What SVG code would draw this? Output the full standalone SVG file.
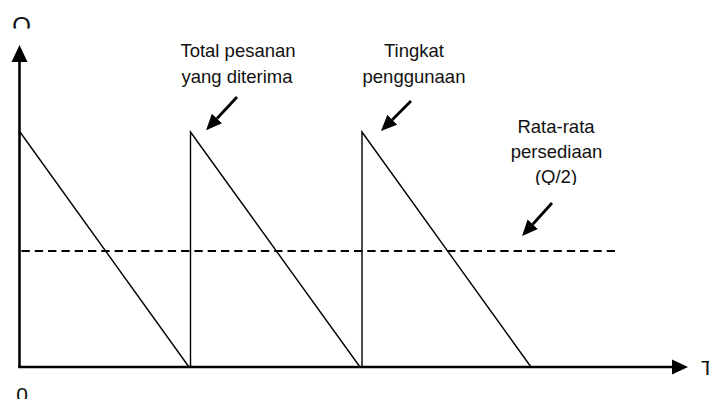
<svg xmlns="http://www.w3.org/2000/svg" width="709" height="399" viewBox="0 0 709 399">
<style>
.lbl{font-family:"Liberation Sans",Arial,sans-serif;font-size:18.5px;fill:#111;text-anchor:middle}
.ax{font-family:"Liberation Sans",Arial,sans-serif;font-size:21px;fill:#111}
.axis{stroke:#000;stroke-width:2.6;fill:none}
.saw{stroke:#000;stroke-width:1.4;fill:none}
.dash{stroke:#000;stroke-width:2;stroke-dasharray:8.3 5;fill:none}
.ptr{stroke:#000;stroke-width:2.8;fill:none;marker-end:url(#ah)}
</style>
<defs>
<marker id="ah" markerUnits="userSpaceOnUse" markerWidth="17" markerHeight="15" refX="0" refY="7" orient="auto">
<path d="M0,0 L16,7 L0,14 z" fill="#000"/>
</marker>
<clipPath id="clipQ"><rect x="0" y="0" width="60" height="28.5"/></clipPath>
<clipPath id="clipQ2"><rect x="480" y="160" width="160" height="25"/></clipPath>
</defs>
<rect width="709" height="399" fill="#fff"/>
<g id="axes">
<line class="axis" x1="19.5" y1="367" x2="19.5" y2="60"/>
<polygon points="19.5,45 11.5,62 27.5,62" fill="#000"/>
<line class="axis" x1="18.2" y1="367" x2="673" y2="367"/>
<polygon points="688,367 672,359.5 672,374.5" fill="#000"/>
<g clip-path="url(#clipQ)"><text class="ax" x="21.5" y="34" text-anchor="middle" style="font-size:24px">Q</text></g>
<text class="ax" x="22" y="402" text-anchor="middle">0</text>
<text class="ax" x="701" y="375">T</text>
</g>
<g id="inventory">
<polyline class="saw" points="20,132 189,367"/>
<polyline class="saw" points="190.5,367 190.5,132 360,367"/>
<polyline class="saw" points="362,367 362,132 531,367"/>
</g>
<g id="average">
<line class="dash" x1="21.5" y1="251" x2="619" y2="251"/>
</g>
<g id="label-total">
<text class="lbl" x="238" y="57">Total pesanan</text>
<text class="lbl" x="237" y="83">yang diterima</text>
</g>
<g id="label-tingkat">
<text class="lbl" x="414" y="57">Tingkat</text>
<text class="lbl" x="414" y="83">penggunaan</text>
</g>
<g id="label-rata">
<text class="lbl" x="556" y="133">Rata-rata</text>
<text class="lbl" x="556.5" y="158">persediaan</text>
<g clip-path="url(#clipQ2)"><text class="lbl" x="556" y="183">(Q/2)</text></g>
</g>
<g id="connectors">
<line class="ptr" x1="237" y1="97" x2="217" y2="118.5"/>
<line class="ptr" x1="411" y1="101" x2="392.3" y2="119.7"/>
<line class="ptr" x1="552" y1="203" x2="532.8" y2="224.2"/>
</g>
</svg>
